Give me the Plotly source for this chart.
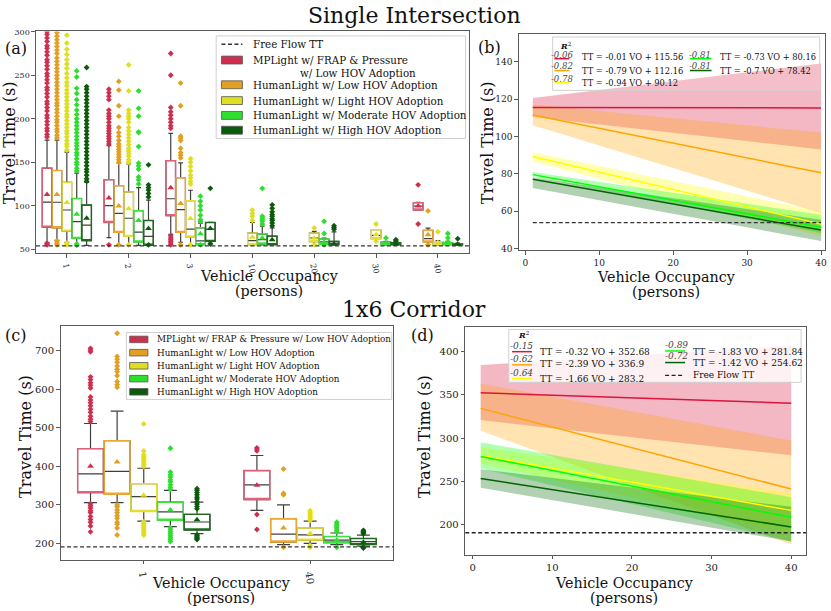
import plotly.graph_objects as go

W, H = 831, 611
FONT = "DejaVu Serif"

series_names = ["MPLight w/ FRAP & Pressure w/ Low HOV Adoption",
                "HumanLight w/ Low HOV Adoption",
                "HumanLight w/ Light HOV Adoption",
                "HumanLight w/ Moderate HOV Adoption",
                "HumanLight w/ High HOV Adoption"]
line_colors = ["#dc143c", "#ffa500", "#ffff00", "#00ff00", "#006400"]
band_colors = ["rgba(220,20,60,0.3)", "rgba(255,165,0,0.3)", "rgba(255,255,0,0.3)",
               "rgba(0,255,0,0.3)", "rgba(0,100,0,0.3)"]
patch_colors = ["#cf2f4e", "#e29f22", "#dede22", "#2ede2e", "#0c5a0c"]
edge_colors = ["#e0607a", "#eea532", "#e6de30", "#3ae23a", "#1f6a1f"]

# ---------------- (a) Single Intersection, box plots ----------------
vo_single = ["1", "2", "3", "10", "20", "30", "40"]
a_q1 = [[75.4, 80.7, 88.6, None, None, None, 95.1],
        [74.6, 69.3, 69.3, None, None, None, 58.3],
        [70.8, 64.8, 64.0, 55.3, 58.7, 62.2, 55.3],
        [62.5, 58.3, 55.3, 56.0, 55.7, 55.3, 55.3],
        [59.9, 54.5, 59.0, 55.3, 55.3, 55.3, 55.2]]
a_med = [[104.2, 100.0, 108.0, None, None, None, 99.6],
         [104.0, 91.3, 95.5, None, None, None, 62.2],
         [95.1, 85.6, 73.0, 59.9, 62.9, 65.9, 56.0],
         [81.8, 69.7, 59.5, 61.0, 58.4, 56.3, 56.3],
         [77.7, 64.8, 73.0, 56.0, 57.0, 55.9, 55.5]]
a_q3 = [[143.2, 129.9, 151.9, None, None, None, 103.4],
        [140.5, 123.0, 132.2, None, None, None, 71.6],
        [126.9, 115.9, 105.7, 68.5, 68.5, 72.4, 58.7],
        [108.3, 94.3, 74.6, 67.4, 61.7, 58.4, 57.6],
        [100.8, 83.0, 80.7, 65.0, 59.0, 57.4, 55.9]]
a_lo = [[58.0, 63.3, 67.0, None, None, None, 95.0],
        [60.2, 55.3, 58.0, None, None, None, 55.3],
        [58.0, 55.3, 55.3, 55.0, 55.3, 62.2, 55.0],
        [54.5, 54.5, 55.0, 55.0, 55.0, 55.0, 55.0],
        [54.5, 54.5, 57.0, 55.0, 55.0, 55.0, 55.0]]
a_hi = [[175.4, 169.0, 183.3, None, None, None, 104.0],
        [175.4, 149.2, 149.2, None, None, None, 74.2],
        [161.7, 148.0, 117.8, 80.7, 70.5, 72.4, 60.0],
        [137.5, 120.8, 79.9, 76.5, 62.9, 59.0, 59.0],
        [126.9, 106.4, 81.0, 74.6, 70.0, 59.0, 57.0]]
a_mean = [[112.9, 109.0, 120.8, None, None, None, 99.6],
          [113.0, 99.6, 102.6, None, None, None, 66.5],
          [103.8, 96.6, 85.2, 63.6, 62.5, 66.5, 57.7],
          [90.2, 83.0, 67.8, 63.0, 58.0, 57.0, 58.7],
          [85.6, 73.9, 73.9, 61.0, 56.0, 56.0, 55.8]]
a_out = [
    [[55, 56.5, 179, 182, 186, 189, 193, 197, 201, 204, 209, 213, 217, 220, 225, 229, 233, 236, 241,
      245, 249, 252, 257, 261, 265, 268, 273, 277, 281, 284, 289, 293, 297, 300],
     [55, 171, 174, 177, 180, 183, 186, 189, 192, 196, 200, 203, 206, 210, 222, 226, 230, 234],
     [55, 57, 59, 61, 63, 65.5, 189, 192, 196, 200, 204, 208, 213, 250, 275],
     [], [], [], [79, 124]],
    [[55, 57, 59.5, 178, 181, 185, 188, 192, 196, 199, 203, 207, 211, 215, 218, 222, 226, 230, 234,
      238, 242, 246, 250, 254, 258, 262, 266, 270, 275, 279, 283, 287, 291, 295, 299],
     [55, 150, 153, 156, 159, 162, 165, 168, 171, 175, 180, 184, 190, 203, 215, 233, 243],
     [55, 155, 158, 161, 166, 175, 178, 180, 215, 241],
     [], [], [], [55, 94]],
    [[55, 57, 164, 168, 171, 175, 179, 183, 186, 190, 194, 198, 202, 205, 209, 213, 217, 221, 225,
      229, 233, 238, 242, 247, 252, 258, 263, 268, 274, 280, 287, 296],
     [55, 150, 153, 157, 160, 163, 166, 170, 174, 178, 182, 186, 190, 196, 200, 203, 206, 210, 232, 262],
     [55, 125, 128, 132, 135, 140, 145, 150, 154],
     [83, 88, 91, 95], [55, 74.5], [59, 79], [70]],
    [[54.5, 56, 140, 143, 147, 150, 154, 158, 161, 165, 169, 172, 176, 180, 184, 188, 192, 196, 200,
      205, 210, 216, 222, 229, 235, 248, 255],
     [125, 130, 133, 142, 146, 149, 168, 184, 185, 203, 212, 232],
     [55, 82, 84, 89, 95, 100, 105, 111],
     [79, 82, 84, 86, 88, 120], [55, 68, 82], [63], [63, 68]],
    [[128, 131, 135, 139, 142, 146, 150, 154, 158, 162, 166, 170, 174, 178, 182, 186, 190, 194, 198,
      202, 206, 210, 214, 218, 222, 226, 230, 234, 237, 259],
     [55, 110, 114, 118, 121, 124, 147],
     [56, 120],
     [77, 80, 83, 85, 88, 90, 93, 97, 101], [73, 75, 77], [59.5, 61], [62]],
]
ff_single = 53.8

# ---------------- (b) Single Intersection, regression ----------------
vo_fit = [1, 40]
b_line = [[115.5, 115.2], [111.4, 80.5], [89.2, 53.0], [79.5, 51.3], [77.0, 49.8]]
b_lo = [[110.4, 93.0], [106.0, 58.8], [86.6, 46.5], [78.3, 48.3], [72.4, 43.9]]
b_hi = [[120.6, 139.0], [117.0, 102.0], [91.5, 59.7], [80.9, 58.0], [77.9, 55.3]]
b_r2 = ["-0.06", "-0.82", "-0.78", "-0.81", "-0.81"]
b_eq = ["TT = -0.01 VO + 115.56", "TT = -0.79 VO + 112.16", "TT = -0.94 VO + 90.12",
        "TT = -0.73 VO + 80.16", "TT = -0.7 VO + 78.42"]

# ---------------- (c) 1x6 Corridor, box plots ----------------
vo_corr = ["1", "40"]
c_q1 = [[331.8, 313.8], [327.4, 203.6], [283.0, 208.7], [260.0, 201.8], [235.0, 197.4]]
c_med = [[380.5, 352.0], [387.0, 224.0], [321.5, 222.0], [282.0, 208.7], [255.6, 205.0]]
c_q3 = [[446.0, 389.0], [466.7, 264.0], [354.8, 240.0], [307.0, 218.0], [275.4, 212.8]]
c_lo = [[306.0, 285.6], [306.0, 196.7], [258.0, 200.0], [243.6, 197.0], [225.6, 193.0]]
c_hi = [[511.0, 428.0], [543.0, 300.0], [395.0, 258.0], [337.7, 227.0], [307.0, 221.5]]
c_mean = [[400.0, 351.0], [411.0, 240.0], [325.0, 225.6], [287.0, 208.7], [261.6, 203.0]]
c_out = [
    [[230, 245, 255, 262, 270, 280, 285, 292, 298, 303, 516, 522, 530, 540, 548, 557, 565, 572, 580,
      603, 610, 617, 625, 632, 697, 702, 706],
     [236, 275, 440, 445, 448]],
    [[222, 240, 250, 255, 265, 272, 280, 287, 295, 300, 605, 612, 620, 635, 645, 652, 660, 670, 678,
      685, 745],
     [190, 326, 330, 393]],
    [[222, 227, 232, 237, 242, 247, 252, 256, 400, 405, 410, 415, 420, 425, 430, 440, 510],
     [190, 195, 260, 265, 270, 275, 280, 285]],
    [[205, 210, 215, 220, 225, 230, 236, 241, 340, 345, 352, 360, 365, 372, 378, 385, 447],
     [190, 230, 235, 240, 245, 250, 255]],
    [[210, 213, 216, 219, 222, 290, 296, 302, 308, 315, 320, 326, 332, 338, 342],
     [188, 190, 225, 228, 231, 234]],
]
ff_corr = 191

# ---------------- (d) 1x6 Corridor, regression ----------------
d_line = [[352.6, 340.4], [334.5, 241.5], [280.3, 216.8], [279.0, 208.8], [253.6, 197.7]]
d_lo = [[321.0, 280.3], [308.8, 177.5], [271.0, 190.0], [265.0, 181.0], [243.0, 181.0]]
d_hi = [[384.6, 407.0], [363.2, 297.4], [290.0, 237.0], [295.5, 232.0], [264.3, 221.0]]
d_r2 = ["-0.15", "-0.62", "-0.64", "-0.89", "-0.72"]
d_eq = ["TT = -0.32 VO + 352.68", "TT = -2.39 VO + 336.9", "TT = -1.66 VO + 283.2",
        "TT = -1.83 VO + 281.84", "TT = -1.42 VO + 254.62"]


def PX(v):
    return v / W


def PY(v):
    return 1 - v / H


fig = go.Figure()
offsets = [-0.32, -0.16, 0.0, 0.16, 0.32]
BW = 0.155


def add_boxes(xa, ya, q1, med, q3, lo, hi, mean, outl):
    for s in range(5):
        idx = [c for c in range(len(q1[s])) if q1[s][c] is not None]
        xs = [c + offsets[s] for c in idx]
        sq1 = [q1[s][c] for c in idx]
        sq3 = [q3[s][c] for c in idx]
        # grey whiskers, caps and median
        fig.add_trace(go.Box(x=xs, q1=sq1, median=[med[s][c] for c in idx], q3=sq3,
                             lowerfence=[lo[s][c] for c in idx], upperfence=[hi[s][c] for c in idx],
                             orientation="v", width=BW, whiskerwidth=0.5, boxpoints=False,
                             fillcolor="white", line=dict(color="#3f3f3f", width=1.2),
                             xaxis=xa, yaxis=ya, showlegend=False, hoverinfo="skip"))
        # coloured box outline on top
        fig.add_trace(go.Box(x=xs, q1=sq1, median=sq1, q3=sq3, lowerfence=sq1, upperfence=sq3,
                             orientation="v", width=BW, whiskerwidth=0, boxpoints=False,
                             fillcolor="rgba(0,0,0,0)", line=dict(color=edge_colors[s], width=1.4),
                             xaxis=xa, yaxis=ya, showlegend=False, hoverinfo="skip"))
        ox, oy = [], []
        for c in range(len(outl[s])):
            for v in outl[s][c]:
                ox.append(c + offsets[s])
                oy.append(v)
        fig.add_trace(go.Scatter(x=ox, y=oy, mode="markers", xaxis=xa, yaxis=ya,
                                 marker=dict(symbol="diamond", size=4.5, color=patch_colors[s],
                                             line=dict(width=0)),
                                 showlegend=False, hoverinfo="skip"))
        fig.add_trace(go.Scatter(x=xs, y=[mean[s][c] for c in idx], mode="markers", xaxis=xa, yaxis=ya,
                                 marker=dict(symbol="triangle-up", size=6, color=patch_colors[s],
                                             line=dict(width=0)),
                                 showlegend=False, hoverinfo="skip"))


def add_fits(xa, ya, line, lo, hi):
    for s in range(5):
        fig.add_trace(go.Scatter(x=vo_fit + vo_fit[::-1], y=lo[s] + hi[s][::-1], fill="toself",
                                 fillcolor=band_colors[s], line=dict(width=0), mode="lines",
                                 xaxis=xa, yaxis=ya, showlegend=False, hoverinfo="skip"))
    for s in range(5):
        fig.add_trace(go.Scatter(x=vo_fit, y=line[s], mode="lines", line=dict(color=line_colors[s], width=1.5),
                                 xaxis=xa, yaxis=ya, showlegend=False, hoverinfo="skip"))


add_boxes("x", "y", a_q1, a_med, a_q3, a_lo, a_hi, a_mean, a_out)
add_fits("x2", "y2", b_line, b_lo, b_hi)
add_boxes("x3", "y3", c_q1, c_med, c_q3, c_lo, c_hi, c_mean, c_out)
add_fits("x4", "y4", d_line, d_lo, d_hi)

# free flow travel time lines
fig.add_trace(go.Scatter(x=vo_fit, y=[ff_single, ff_single], mode="lines", xaxis="x2", yaxis="y2",
                         line=dict(color="#333", width=1.4, dash="4px,2.5px"), showlegend=False))
fig.add_trace(go.Scatter(x=[-0.95, 41.95], y=[ff_corr, ff_corr], mode="lines", xaxis="x4", yaxis="y4",
                         line=dict(color="#222", width=1.4, dash="4px,2.5px"), showlegend=False))
shapes = []
for xr, yr, v in [("x domain", "y", ff_single), ("x3 domain", "y3", ff_corr)]:
    shapes.append(dict(type="line", xref=xr, yref=yr, x0=0, x1=1, y0=v, y1=v,
                       line=dict(color="#333", width=1.4, dash="4px,2.5px")))

AX = dict(showline=True, mirror=True, linecolor="#5a5a5a", linewidth=1, ticks="outside", ticklen=3.5,
          tickcolor="#5a5a5a", showgrid=False, zeroline=False)


def tf(size):
    return dict(family=FONT, size=size, color="#222")


fig.update_layout(
    width=W, height=H, margin=dict(l=0, r=0, t=0, b=0),
    plot_bgcolor="white", paper_bgcolor="white", showlegend=False,
    xaxis=dict(AX, domain=[PX(36), PX(470)], anchor="y", range=[-0.5, 6.5],
               tickvals=list(range(7)), ticktext=vo_single, tickangle=80, tickfont=tf(8)),
    yaxis=dict(AX, domain=[PY(252), PY(27.7)], anchor="x", range=[45.5, 300.5],
               tickvals=[50, 100, 150, 200, 250, 300], tickfont=tf(8)),
    xaxis2=dict(AX, domain=[PX(520), PX(826.7)], anchor="y2", range=[-0.9, 40.5],
                tickvals=[0, 10, 20, 30, 40], tickfont=tf(9)),
    yaxis2=dict(AX, domain=[PY(249.3), PY(30)], anchor="x2", range=[38.9, 155],
                tickvals=[40, 60, 80, 100, 120, 140], tickfont=tf(9)),
    xaxis3=dict(AX, domain=[PX(60.7), PX(394.3)], anchor="y3", range=[-0.5, 1.5],
                tickvals=[0, 1], ticktext=vo_corr, tickangle=80, tickfont=tf(10)),
    yaxis3=dict(AX, domain=[PY(562.3), PY(325.7)], anchor="x3", range=[157.4, 764],
                tickvals=[200, 300, 400, 500, 600, 700], tickfont=tf(10)),
    xaxis4=dict(AX, domain=[PX(466.3), PX(808.3)], anchor="y4", range=[-0.95, 41.9],
                tickvals=[0, 10, 20, 30, 40], tickfont=tf(10)),
    yaxis4=dict(AX, domain=[PY(557.3), PY(326.7)], anchor="x4", range=[165.4, 428.5],
                tickvals=[200, 250, 300, 350, 400], tickfont=tf(10)),
)

ann = []


def text(x, y, t, size, xanchor="center", angle=0, color="#111", italic=False):
    if italic:
        t = "<i>" + t + "</i>"
    ann.append(dict(x=PX(x), y=PY(y), xref="paper", yref="paper", text=t, showarrow=False,
                    xanchor=xanchor, yanchor="middle", textangle=angle,
                    font=dict(family=FONT, size=size, color=color)))


# titles and labels
text(415, 12, "Single Intersection", 22)
text(415, 309, "1x6 Corridor", 22)
text(16, 45, "(a)", 16)
text(491, 44, "(b)", 16)
text(16, 335, "(c)", 16)
text(424, 335, "(d)", 16)
text(9, 140, "Travel Time (s)", 16, angle=-90)
text(489, 140, "Travel Time (s)", 16, angle=-90)
text(26, 437, "Travel Time (s)", 16, angle=-90)
text(426, 437, "Travel Time (s)", 16, angle=-90)
for cx, y1 in [(270, 275), (668, 276), (222, 586), (626, 586)]:
    text(cx, y1, "Vehicle Occupancy", 14.3)
    text(cx, y1 + 15, "(persons)", 14.3)


def rect(x0, y0, x1, y1, fill, border, width=1):
    shapes.append(dict(type="rect", xref="paper", yref="paper", x0=PX(x0), x1=PX(x1), y0=PY(y1), y1=PY(y0),
                       fillcolor=fill, line=dict(color=border, width=width), layer="above"))


def hline(x0, x1, y, color, width=1.5, dash="solid"):
    shapes.append(dict(type="line", xref="paper", yref="paper", x0=PX(x0), x1=PX(x1), y0=PY(y), y1=PY(y),
                       line=dict(color=color, width=width, dash=dash), layer="above"))


# legend (a)
rect(216.7, 32.3, 466.7, 136, "rgba(255,255,255,0.85)", "#d0d0d0")
hline(222, 243, 40.7, "#333", 1.4, "4px,2.5px")
text(252, 40.7, "Free Flow TT", 10.3, "left")
a_leg_y = [56.7, 81.7, 97.7, 112.7, 127.7]
for s in range(5):
    rect(222, a_leg_y[s] - 4, 243, a_leg_y[s] + 4, patch_colors[s], "#555", 0.8)
    label = "MPLight w/ FRAP & Pressure" if s == 0 else series_names[s]
    text(252, a_leg_y[s], label, 10.3, "left")
text(299, 69.3, "w/ Low HOV Adoption", 10.3, "left")

# legend (c)
rect(126.7, 332.3, 392.7, 400, "rgba(255,255,255,0.85)", "#d0d0d0")
c_leg_y = [339.3, 352.7, 366, 379, 392.3]
for s in range(5):
    rect(130, c_leg_y[s] - 3.3, 148.3, c_leg_y[s] + 3.3, patch_colors[s], "#555", 0.8)
    text(155.7, c_leg_y[s], series_names[s], 8.8, "left")

# legend (b)
rect(554, 33.3, 821.7, 87.3, "rgba(255,255,255,0.1)", "#d0d0d0")
text(567, 42, "<b><i>R</i></b><sup>2</sup>", 8)
b_pos = [(563, 555.7, 570.7, 581.7, 52, 55.3, 54), (563, 555.7, 570.7, 581.7, 62.3, 67.3, 67.3),
         (563, 555.7, 570.7, 581.7, 75.7, 79.7, 80.3), (702, 691.7, 713.3, 720, 51.3, 55.3, 54),
         (702, 691.7, 713.3, 720, 62.3, 67.3, 67.3)]
for s in range(5):
    cx, lx0, lx1, ex, ry, ly, ey = b_pos[s]
    text(cx, ry, b_r2[s], 8.5, color="#444", italic=True)
    hline(lx0, lx1, ly, line_colors[s], 1.5)
    text(ex, ey, b_eq[s], 8.3, "left")

# legend (d)
rect(510, 329.3, 803, 382.7, "rgba(255,255,255,0.8)", "#d0d0d0")
text(525.5, 334.5, "<b><i>R</i></b><sup>2</sup>", 8)
d_pos = [(523, 513.3, 533.3, 539.3, 346, 351.7, 351.7), (523, 513.3, 533.3, 539.3, 359.3, 365, 364),
         (523, 513.3, 533.3, 539.3, 373.3, 379, 379), (678, 666.7, 686.7, 692.3, 345, 351, 351.7),
         (678, 666.7, 686.7, 692.3, 356.5, 362.7, 362.7)]
for s in range(5):
    cx, lx0, lx1, ex, ry, ly, ey = d_pos[s]
    text(cx, ry, d_r2[s], 9, color="#444", italic=True)
    hline(lx0, lx1, ly, line_colors[s], 1.5)
    text(ex, ey, d_eq[s], 9, "left")
hline(666.7, 684, 375.7, "#222", 1.4, "4px,2.5px")
text(692.3, 375.7, "Free Flow TT", 9, "left")

fig.update_layout(shapes=shapes, annotations=ann)
# remove the default page margin so the figure sits at the window's top-left corner
fig.write_html("out.html", config={"displayModeBar": False},
               post_script="document.body.style.margin='0px';")
